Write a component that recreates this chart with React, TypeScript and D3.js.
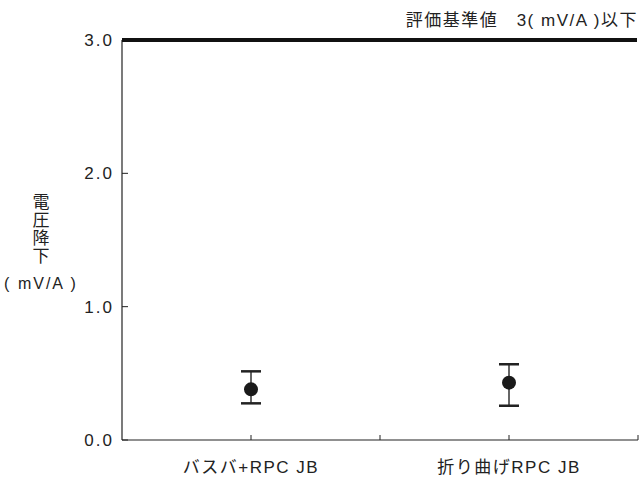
import React from "react";
import * as d3 from "d3";

const categories = ["バスバ+RPC JB", "折り曲げRPC JB"];
const means = [0.38, 0.43];
const upper = [0.515, 0.568];
const lower = [0.275, 0.257];
const yTicks = [0, 1, 2, 3];
const threshold = 3.0;
const thresholdLabel = "評価基準値　3( mV/A )以下";
const yLabelChars = ["電", "圧", "降", "下"];
const yLabelUnit = "( mV/A )";

const FONT = "'Liberation Sans', 'Noto Sans CJK JP', sans-serif";

export default function App() {
  const W = 642, H = 479;
  const left = 122, right = 638, top = 40, bottom = 440;

  const x = d3.scaleBand<string>().domain(categories).range([left, right]);
  const y = d3.scaleLinear().domain([0, 3]).range([bottom, top]);
  const cx = (c: string) => (x(c) as number) + x.bandwidth() / 2;

  const xTicks: number[] = [];
  categories.forEach((c) => {
    xTicks.push(cx(c));
    xTicks.push((x(c) as number) + x.bandwidth());
  });

  return (
    <svg width={W} height={H} style={{ position: "absolute", left: 0, top: 0 }} fontFamily={FONT}>
      <rect width={W} height={H} fill="#fff" />
      {/* axes */}
      <line x1={left} x2={left} y1={top} y2={bottom} stroke="#222" strokeWidth={1.2} />
      <line x1={left} x2={right} y1={bottom} y2={bottom} stroke="#222" strokeWidth={1.2} />
      {yTicks.map((t) => (
        <g key={t}>
          <line x1={left} x2={left + 6} y1={y(t)} y2={y(t)} stroke="#222" strokeWidth={1} />
          <text x={left - 8} y={y(t)} dy="0.36em" textAnchor="end" fontSize={17} letterSpacing={2} fill="#222">
            {d3.format(".1f")(t)}
          </text>
        </g>
      ))}
      {xTicks.map((t, i) => (
        <line key={i} x1={t} x2={t} y1={bottom} y2={bottom - 5} stroke="#222" strokeWidth={1} />
      ))}
      {categories.map((c) => (
        <text key={c} x={cx(c)} y={467} dy="0.36em" textAnchor="middle" fontSize={17} letterSpacing={1.5} fill="#222">
          {c}
        </text>
      ))}
      {/* threshold */}
      <line x1={left} x2={right - 1} y1={y(threshold)} y2={y(threshold)} stroke="#111" strokeWidth={4} />
      <text x={right} y={20} dy="0.36em" textAnchor="end" fontSize={17} letterSpacing={1.5} fill="#222">
        {thresholdLabel}
      </text>
      {/* error bars and points */}
      {categories.map((c, i) => (
        <g key={c}>
          <line x1={cx(c)} x2={cx(c)} y1={y(upper[i])} y2={y(lower[i])} stroke="#333" strokeWidth={1.5} />
          <line x1={cx(c) - 10} x2={cx(c) + 10} y1={y(upper[i])} y2={y(upper[i])} stroke="#222" strokeWidth={2.5} />
          <line x1={cx(c) - 10} x2={cx(c) + 10} y1={y(lower[i])} y2={y(lower[i])} stroke="#222" strokeWidth={2.5} />
          <circle cx={cx(c)} cy={y(means[i])} r={7} fill="#1a1a1a" />
        </g>
      ))}
      {/* y label */}
      {yLabelChars.map((ch, i) => (
        <text key={i} x={41} y={201.5 + i * 18.2} dy="0.36em" textAnchor="middle" fontSize={17} fill="#222">
          {ch}
        </text>
      ))}
      <text x={41} y={283} dy="0.36em" textAnchor="middle" fontSize={16} letterSpacing={2} fill="#222">
        {yLabelUnit}
      </text>
    </svg>
  );
}
